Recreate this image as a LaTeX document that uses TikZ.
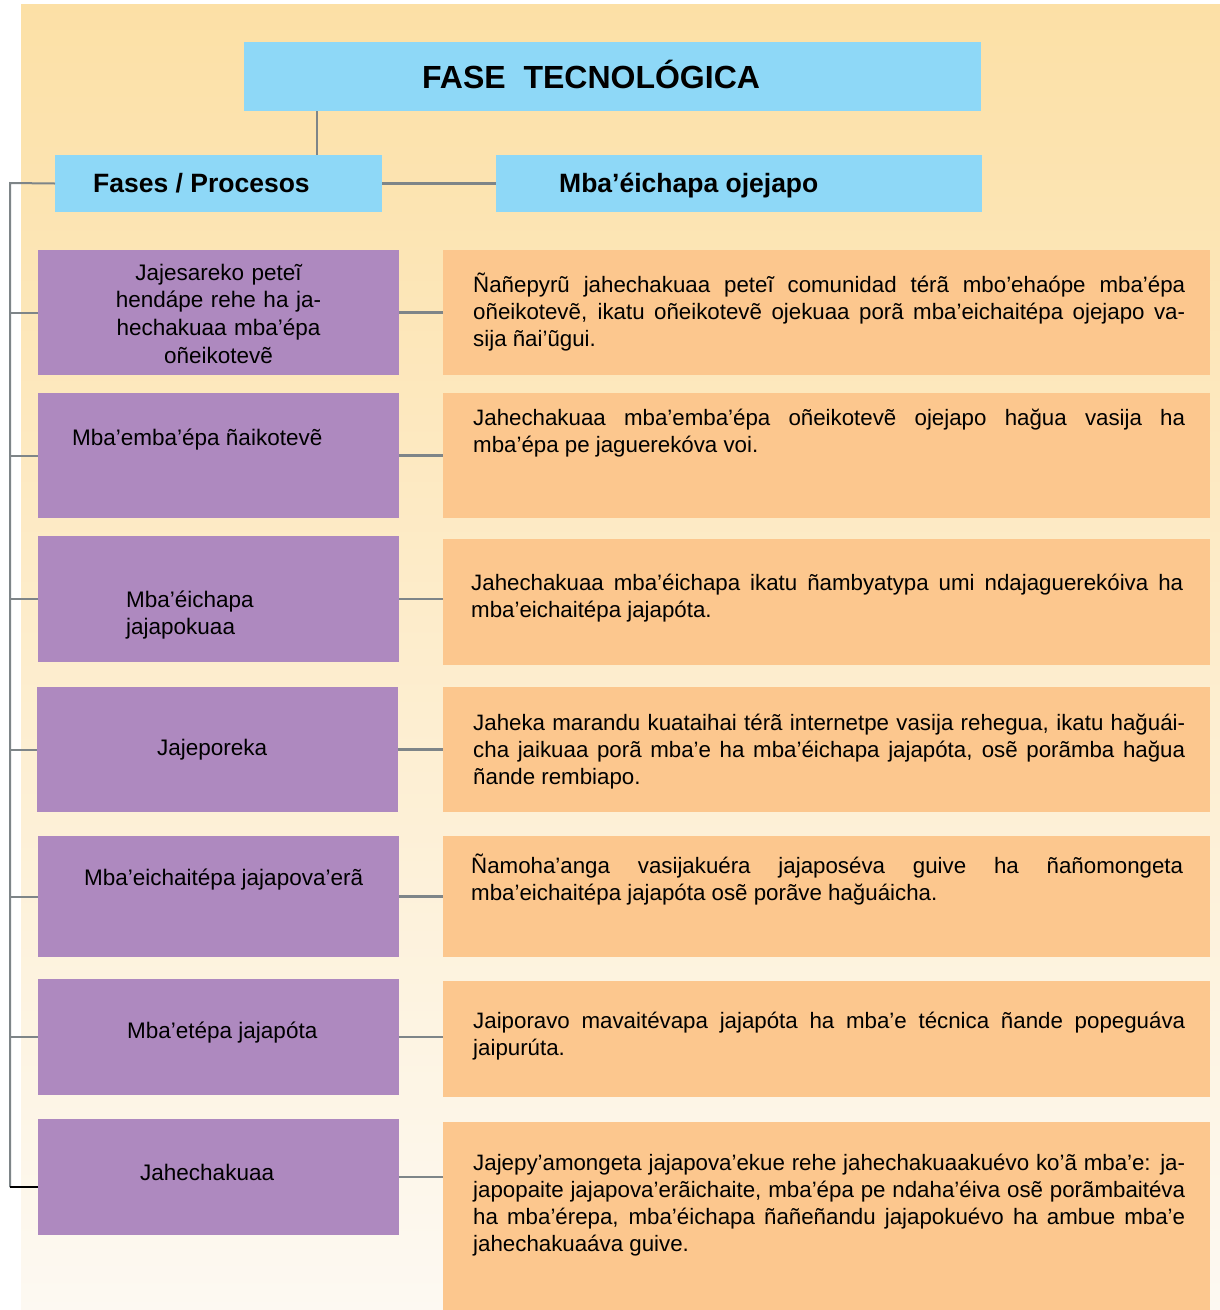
\documentclass[tikz,border=0pt]{standalone}
\usepackage{fontspec}
\setmainfont{Liberation Sans}
\definecolor{hdrblue}{HTML}{8ED8F7}
\definecolor{phasepurple}{HTML}{AE89BF}
\definecolor{descorange}{HTML}{FCC78E}
\definecolor{linegray}{HTML}{7E8588}
\definecolor{bgtop}{HTML}{FCE0A6}
\definecolor{bgmid}{HTML}{FDEDCD}
\definecolor{bgbot}{HTML}{FDF9F2}
\newcommand{\jline}[1]{\hbox to 712pt{\spaceskip=0.278em plus 1fil minus 0.12em\relax #1}}
\newcommand{\lline}[1]{\hbox{#1}}
\newcommand{\dpara}[1]{\vtop{\hsize=712pt #1}}
\begin{document}
\begin{tikzpicture}[x=1pt,y=-1pt,
  box/.style={rectangle,inner sep=0pt,outer sep=0pt,anchor=north west,draw=none},
  hdr/.style={box,fill=hdrblue},
  phase/.style={box,fill=phasepurple,minimum width=361pt},
  desc/.style={box,fill=descorange,minimum width=767pt},
  link/.style={draw=linegray,line width=2pt},
  rlink/.style={draw=linegray,line width=2.6pt},
  plbl/.style={inner sep=0pt,anchor=base west,font=\fontsize{22.5}{27.7}\selectfont},
  dtxt/.style={inner sep=0pt,anchor=base west,font=\fontsize{22.3}{27.2}\selectfont}]
\useasboundingbox (0,0) rectangle (1220,1310);
\fill[white] (0,0) rectangle (1220,1310);
\shade[top color=bgtop,bottom color=bgbot,middle color=bgmid] (21,4) rectangle (1220,1310);

% header boxes
\node[hdr,minimum width=737pt,minimum height=69pt] (t) at (244,42) {};
\node[hdr,minimum width=327pt,minimum height=57pt] (h1) at (55,155) {};
\node[hdr,minimum width=486pt,minimum height=57pt] (h2) at (496,155) {};
\node[inner sep=0pt,anchor=base west,font=\fontsize{32}{36}\selectfont\bfseries] (tt) at (422,88) {FASE~~TECNOLÓGICA};
\node[inner sep=0pt,anchor=base west,font=\fontsize{26.5}{32}\selectfont\bfseries] (h1t) at (93,192) {Fases / Procesos};
\node[inner sep=0pt,anchor=base west,font=\fontsize{26.5}{32}\selectfont\bfseries] (h2t) at (559,192) {Mba’éichapa ojejapo};

% phase boxes
\node[phase,minimum height=125pt] (p1) at (38,250) {};
\node[phase,minimum height=125pt] (p2) at (38,393) {};
\node[phase,minimum height=126pt] (p3) at (38,536) {};
\node[phase,minimum height=125pt] (p4) at (37,687) {};
\node[phase,minimum height=121pt] (p5) at (38,836) {};
\node[phase,minimum height=116pt] (p6) at (38,979) {};
\node[phase,minimum height=116pt] (p7) at (38,1119) {};

% description boxes
\node[desc,minimum height=125pt] (r1) at (443,250) {};
\node[desc,minimum height=125pt] (r2) at (443,393) {};
\node[desc,minimum height=126pt] (r3) at (443,539) {};
\node[desc,minimum height=125pt] (r4) at (443,687) {};
\node[desc,minimum height=121pt] (r5) at (443,836) {};
\node[desc,minimum height=116pt] (r6) at (443,981) {};
\node[desc,minimum height=188pt] (r7) at (443,1122) {};

% phase labels
\node[plbl,anchor=base,text width=340pt,align=center] (p1t) at (218.5,280) {Jajesareko peteĩ\\hendápe rehe ha ja-\\hechakuaa mba’épa\\oñeikotevẽ};
\node[plbl] (p2t) at (72,445) {Mba’emba’épa ñaikotevẽ};
\node[plbl,text width=250pt,align=left] (p3t) at (126,607) {Mba’éichapa\\jajapokuaa};
\node[plbl] (p4t) at (157,755) {Jajeporeka};
\node[plbl] (p5t) at (84,885) {Mba’eichaitépa jajapova’erã};
\node[plbl] (p6t) at (127,1038) {Mba’etépa jajapóta};
\node[plbl] (p7t) at (140,1180) {Jahechakuaa};

% description texts
\node[dtxt] (r1t) at (473,292) {\dpara{\jline{Ñañepyrũ jahechakuaa peteĩ comunidad térã mbo’ehaópe mba’épa}\jline{oñeikotevẽ, ikatu oñeikotevẽ ojekuaa porã mba’eichaitépa ojejapo va-}\lline{sija ñai’ũgui.}}};
\node[dtxt] (r2t) at (473,425) {\dpara{\jline{Jahechakuaa mba’emba’épa oñeikotevẽ ojejapo hağua vasija ha}\lline{mba’épa pe jaguerekóva voi.}}};
\node[dtxt] (r3t) at (471,590) {\dpara{\jline{Jahechakuaa mba’éichapa ikatu ñambyatypa umi ndajaguerekóiva ha}\lline{mba’eichaitépa jajapóta.}}};
\node[dtxt] (r4t) at (473,730) {\dpara{\jline{Jaheka marandu kuataihai térã internetpe vasija rehegua, ikatu hağuái-}\jline{cha jaikuaa porã mba’e ha mba’éichapa jajapóta, osẽ porãmba hağua}\lline{ñande rembiapo.}}};
\node[dtxt] (r5t) at (471,873) {\dpara{\jline{Ñamoha’anga vasijakuéra jajaposéva guive ha ñañomongeta}\lline{mba’eichaitépa jajapóta osẽ porãve hağuáicha.}}};
\node[dtxt] (r6t) at (473,1028) {\dpara{\jline{Jaiporavo mavaitévapa jajapóta ha mba’e técnica ñande popeguáva}\lline{jaipurúta.}}};
\node[dtxt] (r7t) at (473,1170) {\dpara{\jline{Jajepy’amongeta jajapova’ekue rehe jahechakuaakuévo ko’ã mba’e: ja-}\jline{japopaite jajapova’erãichaite, mba’épa pe ndaha’éiva osẽ porãmbaitéva}\jline{ha mba’érepa, mba’éichapa ñañeñandu jajapokuévo ha ambue mba’e}\lline{jahechakuaáva guive.}}};

% connectors
\coordinate (tj) at (317,111);
\draw[link] (tj) -- (tj |- h1.north);
\draw[rlink,line width=3pt] (h1.east) -- (h2.west);
\coordinate (spTop) at (10,183);
\coordinate (spBot) at (10,1187);
\draw[link] (h1.west) -- (spTop) -- (spBot);
\foreach \i in {1,...,6}{
  \draw[link] (spTop |- p\i.west) -- (p\i.west);
  \draw[rlink] (p\i.east) -- (r\i.west |- p\i.east);
}
\draw[black,line width=2pt] (spBot) -- ([yshift=-10pt]p7.west);
\draw[rlink] (p7.east) -- (r7.west |- p7.east);
\end{tikzpicture}
\end{document}
